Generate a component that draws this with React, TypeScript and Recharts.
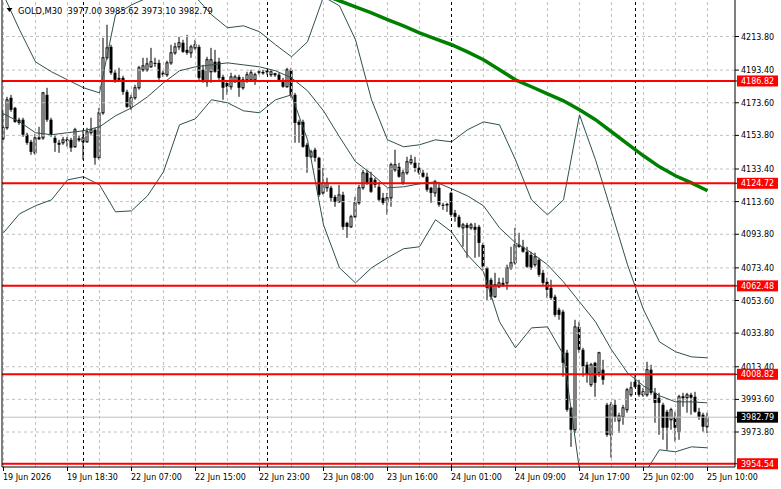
import React from 'react';
import { ComposedChart, Bar, Line, XAxis, YAxis, ReferenceLine } from 'recharts';

if (typeof document !== 'undefined') {
  document.body.style.margin = '0';
}

// ---- OHLC (M30 bars, oldest -> newest) ----
const opens = [
  4151.7, 4158.4, 4176.6, 4170.5, 4163.3, 4163.3, 4154.2, 4149.9, 4143.2, 4151.7,
  4152.3, 4178.4, 4163.3, 4152.3, 4149.3, 4149.3, 4150.5, 4151.1, 4146.9, 4151.1,
  4149.9, 4149.9, 4155.4, 4157.2, 4140.2, 4167.5, 4200.9, 4207.5, 4191.8, 4188.7,
  4188.7, 4180.2, 4171.1, 4176.6, 4182.7, 4193.6, 4193.6, 4195.4, 4197.8, 4197.8,
  4191.8, 4190.6, 4197.8, 4203.9, 4207.5, 4210.0, 4205.7, 4203.9, 4206.9, 4207.5,
  4193.6, 4186.3, 4192.4, 4198.5, 4198.5, 4189.3, 4185.7, 4183.3, 4186.3, 4189.3,
  4182.7, 4187.5, 4187.5, 4187.5, 4192.1, 4191.8, 4192.4, 4190.6, 4190.6, 4190.6,
  4187.5, 4183.3, 4193.6, 4178.4, 4162.0, 4162.0, 4148.1, 4140.8, 4145.1, 4140.2,
  4118.9, 4122.0, 4122.0, 4116.5, 4113.5, 4117.7, 4100.7, 4098.3, 4104.4, 4112.9,
  4122.0, 4131.1, 4128.1, 4126.8, 4122.6, 4115.9, 4113.5, 4115.9, 4132.9, 4134.7,
  4125.0, 4131.1, 4137.2, 4137.2, 4134.1, 4131.1, 4128.7, 4122.0, 4118.9, 4122.0,
  4111.7, 4111.7, 4118.9, 4106.8, 4104.4, 4097.7, 4099.5, 4097.7, 4098.3, 4098.3,
  4087.4, 4073.4, 4066.2, 4055.9, 4061.9, 4064.3, 4064.3, 4073.4, 4076.5, 4087.4,
  4086.2, 4083.2, 4081.3, 4075.3, 4078.3, 4070.4, 4064.9, 4061.3, 4055.9, 4048.0,
  4046.8, 4021.9, 3988.5, 3975.2, 4037.6, 4023.7, 4014.6, 4002.5, 4015.8, 4009.7,
  4011.6, 3990.3, 3972.1, 3990.3, 3980.6, 3983.0, 3987.3, 3996.4, 4004.3, 4002.5,
  3996.4, 3996.4, 4011.6, 3997.6, 3994.6, 3990.3, 3986.1, 3981.2, 3983.0, 3973.9,
  3994.6, 3994.6, 3996.4, 3995.2, 3986.1, 3984.3, 3977.0,
];
const highs = [
  4169.3, 4177.2, 4178.4, 4171.1, 4164.5, 4164.5, 4155.4, 4151.1, 4154.8, 4159.0,
  4180.2, 4182.7, 4164.5, 4154.2, 4151.1, 4152.9, 4152.9, 4152.3, 4158.4, 4153.5,
  4157.2, 4158.4, 4164.5, 4158.4, 4170.5, 4213.0, 4220.9, 4208.8, 4193.6, 4194.8,
  4190.0, 4181.5, 4178.4, 4184.5, 4196.0, 4200.9, 4200.9, 4206.9, 4200.9, 4199.7,
  4193.0, 4199.1, 4208.8, 4210.0, 4213.6, 4211.8, 4214.8, 4208.8, 4211.8, 4208.8,
  4196.6, 4201.5, 4206.9, 4205.7, 4200.9, 4190.6, 4186.9, 4191.8, 4190.6, 4190.6,
  4189.3, 4192.4, 4193.6, 4191.8, 4193.6, 4193.6, 4193.6, 4193.6, 4191.8, 4191.8,
  4188.7, 4194.8, 4194.8, 4179.6, 4163.3, 4163.3, 4149.3, 4145.1, 4146.3, 4140.8,
  4134.1, 4128.1, 4123.2, 4117.7, 4123.8, 4119.6, 4101.4, 4105.6, 4116.5, 4123.8,
  4132.9, 4132.9, 4131.7, 4128.1, 4125.6, 4118.9, 4118.9, 4137.2, 4145.1, 4137.2,
  4132.9, 4140.8, 4142.0, 4140.8, 4137.2, 4132.9, 4131.1, 4122.6, 4126.8, 4125.6,
  4112.9, 4112.9, 4119.6, 4108.6, 4105.6, 4100.7, 4100.7, 4100.7, 4100.7, 4099.5,
  4088.6, 4074.1, 4067.4, 4070.4, 4067.4, 4067.4, 4075.3, 4086.2, 4097.7, 4094.7,
  4090.4, 4086.2, 4083.2, 4082.6, 4079.5, 4072.2, 4067.4, 4066.2, 4057.1, 4049.2,
  4048.0, 4023.7, 3989.1, 4041.9, 4040.7, 4024.9, 4016.4, 4015.8, 4016.4, 4022.5,
  4017.6, 3991.5, 3992.1, 3993.4, 3985.5, 3990.3, 4000.6, 4004.3, 4008.5, 4005.5,
  4000.6, 4016.4, 4014.6, 4000.6, 3997.6, 3991.5, 3987.3, 3988.5, 3986.1, 3996.4,
  3997.6, 3997.6, 3997.6, 3998.2, 3988.5, 3985.5, 3985.62,
];
const lows = [
  4151.1, 4157.2, 4168.1, 4161.4, 4160.2, 4152.9, 4148.1, 4142.0, 4142.0, 4151.1,
  4151.1, 4162.0, 4152.9, 4143.8, 4143.2, 4148.1, 4146.9, 4143.8, 4146.3, 4149.9,
  4139.0, 4149.3, 4154.2, 4136.0, 4139.0, 4166.3, 4199.7, 4190.6, 4185.7, 4186.3,
  4178.4, 4170.5, 4169.3, 4175.4, 4181.5, 4192.4, 4192.4, 4194.8, 4195.4, 4187.5,
  4189.3, 4189.3, 4196.6, 4202.7, 4205.7, 4203.9, 4202.7, 4200.9, 4205.7, 4187.5,
  4185.7, 4183.3, 4185.7, 4191.8, 4187.5, 4175.4, 4178.4, 4181.5, 4185.7, 4177.2,
  4181.5, 4185.7, 4186.3, 4184.5, 4190.6, 4190.6, 4190.6, 4189.3, 4189.3, 4186.3,
  4182.7, 4182.7, 4176.6, 4149.3, 4149.3, 4146.3, 4131.1, 4140.2, 4137.8, 4116.5,
  4117.7, 4119.6, 4113.5, 4110.5, 4112.9, 4096.5, 4091.6, 4097.7, 4103.8, 4111.7,
  4120.8, 4123.8, 4118.9, 4122.0, 4113.5, 4111.7, 4105.6, 4110.5, 4131.7, 4128.1,
  4123.8, 4129.9, 4136.0, 4131.7, 4129.9, 4128.1, 4119.6, 4112.9, 4116.5, 4110.5,
  4108.6, 4107.4, 4104.4, 4101.4, 4097.7, 4086.2, 4079.5, 4096.5, 4079.5, 4080.1,
  4072.2, 4054.0, 4054.0, 4055.2, 4061.3, 4061.9, 4060.1, 4072.2, 4075.3, 4085.6,
  4082.6, 4073.4, 4072.2, 4074.1, 4068.0, 4063.1, 4055.2, 4054.0, 4043.7, 4041.9,
  4007.3, 3986.1, 3964.8, 3973.3, 4021.9, 4007.3, 4003.7, 4001.2, 3995.2, 4007.3,
  4002.5, 3970.9, 3958.2, 3980.0, 3973.3, 3978.2, 3985.5, 3995.2, 4000.6, 3995.2,
  3995.2, 3995.2, 3996.4, 3979.4, 3972.1, 3969.1, 3963.0, 3975.2, 3967.9, 3969.1,
  3989.1, 3985.5, 3984.3, 3985.5, 3981.2, 3973.9, 3973.10,
];
const closes = [
  4158.4, 4175.4, 4169.3, 4162.0, 4161.4, 4154.2, 4149.3, 4143.8, 4152.3, 4152.3,
  4179.6, 4163.3, 4154.2, 4149.3, 4148.1, 4151.1, 4151.1, 4146.3, 4157.2, 4151.7,
  4152.3, 4156.0, 4157.2, 4140.2, 4167.5, 4200.9, 4206.9, 4191.8, 4187.5, 4187.5,
  4180.2, 4171.1, 4176.6, 4182.7, 4194.8, 4196.0, 4197.2, 4198.5, 4197.2, 4188.7,
  4190.6, 4197.8, 4203.9, 4207.5, 4210.0, 4204.5, 4203.9, 4207.5, 4208.8, 4188.7,
  4186.3, 4199.7, 4199.7, 4192.4, 4188.7, 4182.7, 4183.3, 4189.3, 4189.3, 4182.7,
  4187.5, 4190.6, 4191.8, 4190.6, 4192.4, 4192.0, 4193.0, 4192.4, 4191.2, 4187.5,
  4183.3, 4193.6, 4178.4, 4161.4, 4160.2, 4146.9, 4140.8, 4143.8, 4140.2, 4117.7,
  4125.0, 4125.0, 4115.9, 4113.5, 4117.7, 4098.3, 4098.3, 4104.4, 4112.9, 4122.0,
  4131.1, 4125.0, 4119.6, 4123.8, 4114.7, 4112.9, 4115.9, 4136.0, 4136.0, 4128.7,
  4131.1, 4137.8, 4139.0, 4134.1, 4131.1, 4128.7, 4120.8, 4118.9, 4125.6, 4111.7,
  4111.4, 4111.9, 4105.6, 4104.4, 4098.3, 4099.5, 4097.7, 4099.5, 4096.5, 4088.6,
  4074.1, 4061.3, 4055.9, 4063.1, 4064.3, 4063.1, 4073.4, 4076.5, 4087.4, 4086.2,
  4083.2, 4074.1, 4073.4, 4080.1, 4069.2, 4064.3, 4060.1, 4055.2, 4044.9, 4044.9,
  4015.8, 3987.3, 3975.2, 4037.6, 4023.7, 4013.4, 4008.5, 4014.6, 4003.7, 4021.9,
  4005.5, 3972.1, 3990.3, 3983.0, 3983.6, 3988.5, 3999.4, 4000.6, 4001.2, 3996.4,
  3998.2, 4011.6, 3997.6, 3991.5, 3991.5, 3976.4, 3976.4, 3987.3, 3976.4, 3995.2,
  3995.2, 3996.4, 3994.6, 3986.1, 3983.0, 3977.0, 3982.79,
];

// ---- Bollinger bands, read every 4th bar (bar 0, 4, 8, ... 176) ----
const BAND_STEP = 4;
const upperBand = [
  4239.1, 4217.9, 4198.4, 4192.4, 4187.5, 4182.7, 4179.6, 4227.0, 4233.0, 4237.3,
  4239.7, 4245.2, 4237.9, 4227.0, 4219.1, 4220.3, 4216.7, 4208.8, 4201.5, 4210.6,
  4237.9, 4232.4, 4211.8, 4175.4, 4151.1, 4146.9, 4148.1, 4151.1, 4149.9, 4157.2,
  4162.0, 4160.2, 4139.0, 4114.7, 4105.6, 4114.7, 4166.3, 4139.0, 4107.4, 4075.3,
  4048.0, 4028.5, 4022.5, 4019.4, 4018.8,
];
const middleBand = [
  4166.9, 4162.0, 4155.4, 4154.2, 4155.4, 4156.6, 4159.0, 4165.7, 4170.5, 4177.2,
  4185.7, 4193.0, 4195.4, 4196.6, 4197.8, 4196.6, 4195.4, 4193.0, 4188.7, 4180.9,
  4168.7, 4152.9, 4137.8, 4130.5, 4122.0, 4122.6, 4124.4, 4125.6, 4121.4, 4117.1,
  4111.1, 4097.7, 4088.6, 4082.6, 4075.3, 4064.9, 4052.8, 4040.7, 4023.7, 4009.7,
  4001.8, 3995.8, 3992.1, 3992.1, 3991.5,
];
const lowerBand = [
  4094.7, 4106.2, 4111.1, 4114.7, 4126.8, 4128.7, 4123.8, 4107.4, 4108.0, 4117.1,
  4131.7, 4160.2, 4163.9, 4175.4, 4173.6, 4168.7, 4167.5, 4175.4, 4178.4, 4151.1,
  4099.5, 4073.4, 4064.3, 4073.4, 4079.5, 4085.0, 4086.2, 4102.6, 4095.3, 4081.3,
  4071.0, 4040.7, 4024.9, 4037.0, 4037.6, 4020.7, 3950.9, 3944.8, 3938.7, 3938.7,
  3947.8, 3963.0, 3961.8, 3964.8, 3964.2,
];

// ---- Moving average (green), read every 4th bar from bar 80 ----
const MA_START = 80;
const maValues = [
  4239.1, 4235.5, 4231.8, 4228.2, 4224.0, 4220.3, 4216.0, 4212.4, 4208.8, 4204.5,
  4199.7, 4193.6, 4187.5, 4183.3, 4179.0, 4174.8, 4169.3, 4163.3, 4156.0, 4148.7,
  4141.4, 4134.7, 4129.3, 4125.0, 4120.2,
];

// ---- Axes / levels ----
const timeTickBars = [0, 16, 32, 48, 64, 80, 96, 112, 128, 144, 160, 176];
const timeTickLabels = [
  '19 Jun 2026', '19 Jun 18:30', '22 Jun 07:00', '22 Jun 15:00', '22 Jun 23:00', '23 Jun 08:00',
  '23 Jun 16:00', '24 Jun 01:00', '24 Jun 09:00', '24 Jun 17:00', '25 Jun 02:00', '25 Jun 10:00',
];
const gridBars = [0, 8, 16, 24, 32, 40, 48, 56, 64, 72, 80, 88, 96, 104, 112, 120, 128, 136, 144, 152, 160, 168, 176];
const daySeparatorBars = [20, 66, 112, 158];
const priceTicks = [4213.8, 4193.4, 4173.6, 4153.8, 4133.4, 4113.6, 4093.8, 4073.4, 4053.6, 4033.8, 4013.4, 3993.6, 3973.8];
const levelPrices = [4186.82, 4124.72, 4062.48, 4008.82, 3954.54];
const bidPrice = 3982.79;
const titleText = 'GOLD,M30  3977.00 3985.62 3973.10 3982.79';

const FONT = 'DejaVu Sans';

const rows = opens.map((o, i) => ({
  i,
  o,
  h: highs[i],
  l: lows[i],
  c: closes[i],
  range: [lows[i], highs[i]],
  bu: i % BAND_STEP === 0 ? upperBand[i / BAND_STEP] : undefined,
  bm: i % BAND_STEP === 0 ? middleBand[i / BAND_STEP] : undefined,
  bl: i % BAND_STEP === 0 ? lowerBand[i / BAND_STEP] : undefined,
  ma: i >= MA_START && (i - MA_START) % BAND_STEP === 0 ? maValues[(i - MA_START) / BAND_STEP] : undefined,
}));

const Candle = (props: any) => {
  const { x, y, width, height, payload } = props;
  if (x == null || y == null || payload == null) return null;
  const { o, h, l, c } = payload;
  const top = Math.min(y, y + height);
  const hgt = Math.abs(height);
  const cx = x + width / 2;
  const k = h > l ? hgt / (h - l) : 0;
  const py = (v: number) => top + (h - v) * k;
  const bTop = py(Math.max(o, c));
  const bBot = py(Math.min(o, c));
  const bull = c >= o;
  return (
    <g>
      <line x1={cx} x2={cx} y1={top} y2={top + hgt} stroke="#000" strokeWidth={1} />
      {bull ? (
        <rect x={cx - 1} y={bTop} width={2} height={Math.max(bBot - bTop, 0.5)} fill="#fff" stroke="#000" strokeWidth={1} />
      ) : (
        <rect x={cx - 1.5} y={bTop} width={3} height={Math.max(bBot - bTop, 1)} fill="#000" />
      )}
    </g>
  );
};

const TimeTick = (props: any) => {
  const { x, y, payload } = props;
  const idx = timeTickBars.indexOf(payload.value);
  return (
    <text x={x - 0.5} y={y + 7} fontFamily={FONT} fontSize={8} fill="#000" textAnchor="start">
      {idx >= 0 ? timeTickLabels[idx] : ''}
    </text>
  );
};

const PriceTick = (props: any) => {
  const { x, y, payload } = props;
  const v = payload.value;
  const isLevel = levelPrices.includes(v);
  const isBid = v === bidPrice;
  if (isLevel || isBid) {
    return (
      <g>
        <rect x={x - 4} y={y - 5.5} width={41} height={11} fill={isBid ? '#000' : '#ff0000'} />
        <text x={x} y={y + 3} fontFamily={FONT} fontSize={8} fill="#fff" textAnchor="start">
          {v.toFixed(2)}
        </text>
      </g>
    );
  }
  return (
    <text x={x} y={y + 3} fontFamily={FONT} fontSize={8} fill="#000" textAnchor="start">
      {v.toFixed(2)}
    </text>
  );
};

export default function App() {
  return (
    <div style={{ position: 'relative', width: 781, height: 489, background: '#fff', overflow: 'hidden' }}>
      <ComposedChart width={781} height={489} data={rows} margin={{ top: 0, right: 0, bottom: 0, left: 0 }}>
        <XAxis
          type="number"
          dataKey="i"
          domain={[-0.375, 182.875]}
          allowDataOverflow
          ticks={timeTickBars}
          interval={0}
          height={22}
          tickSize={4}
          tickMargin={2}
          tickLine={{ stroke: '#000' }}
          axisLine={{ stroke: '#000' }}
          tick={<TimeTick />}
        />
        <YAxis yAxisId="frame" orientation="left" width={2} domain={[0, 1]} tick={false} tickLine={false} axisLine={{ stroke: '#000' }} />
        <YAxis
          orientation="right"
          type="number"
          width={46}
          domain={[3952.57, 4235.95]}
          allowDataOverflow
          ticks={[...priceTicks, ...levelPrices, bidPrice]}
          interval={0}
          tickSize={4}
          tickMargin={2}
          tickLine={{ stroke: '#000' }}
          axisLine={{ stroke: '#000' }}
          tick={<PriceTick />}
        />
        {priceTicks.map((p) => (
          <ReferenceLine key={'hg' + p} y={p} stroke="#c0c0c0" strokeWidth={1} strokeDasharray="3 3" />
        ))}
        {gridBars.map((b) => (
          <ReferenceLine key={'vg' + b} x={b} stroke="#c0c0c0" strokeWidth={1} strokeDasharray="3 3" />
        ))}
        {daySeparatorBars.map((b) => (
          <ReferenceLine key={'ds' + b} x={b} stroke="#000" strokeWidth={1} strokeDasharray="3 3" />
        ))}
        <ReferenceLine y={bidPrice} stroke="#c0c0c0" strokeWidth={1} />
        <Line dataKey="bu" type="linear" stroke="#2f4f4f" strokeWidth={1} dot={false} connectNulls isAnimationActive={false} />
        <Line dataKey="bm" type="linear" stroke="#2f4f4f" strokeWidth={1} dot={false} connectNulls isAnimationActive={false} />
        <Line dataKey="bl" type="linear" stroke="#2f4f4f" strokeWidth={1} dot={false} connectNulls isAnimationActive={false} />
        <Bar dataKey="range" barSize={3} isAnimationActive={false} shape={(p: any) => <Candle {...p} />} />
        <Line dataKey="ma" type="linear" stroke="#008000" strokeWidth={3.5} dot={false} connectNulls isAnimationActive={false} />
        {levelPrices.map((p) => (
          <ReferenceLine key={'lv' + p} y={p} stroke="#ff0000" strokeWidth={2} />
        ))}
      </ComposedChart>
      <svg width={781} height={20} style={{ position: 'absolute', left: 0, top: 0 }}>
        <polygon points="6.5,8 12.5,8 9.5,12" fill="#000" />
        <text x={18} y={13.5} fontFamily={FONT} fontSize={8.3} fill="#000" style={{ whiteSpace: 'pre' }}>
          {titleText}
        </text>
      </svg>
    </div>
  );
}
